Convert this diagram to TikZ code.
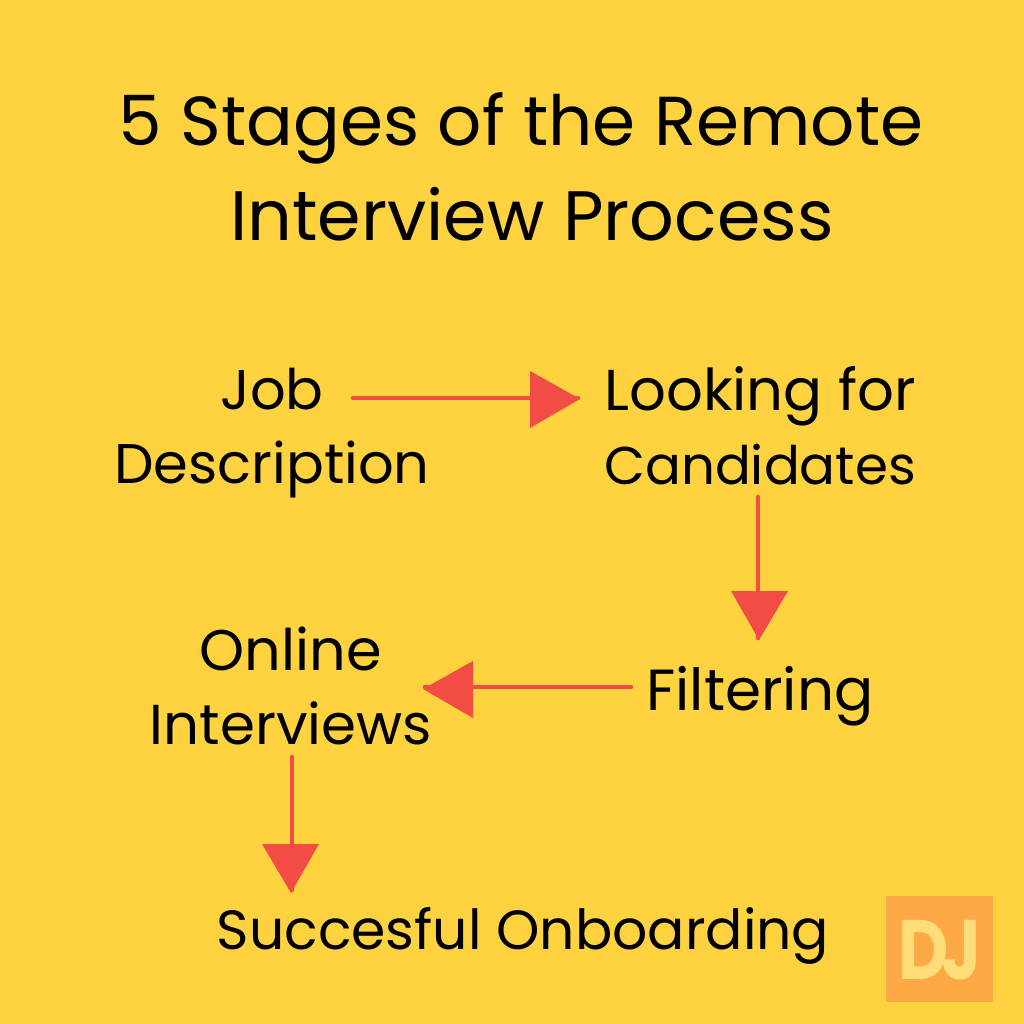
\documentclass[tikz,border=0pt]{standalone}
\usepackage{fontspec}
\setmainfont{Poppins}
\definecolor{bgy}{HTML}{FFD23F}
\definecolor{arr}{HTML}{F24C45}
\definecolor{logobg}{HTML}{FDA945}
\definecolor{logofg}{HTML}{FFDD78}
\newcommand{\fsz}[1]{\fontsize{#1}{21}\selectfont}
\tikzset{
 lab/.style={text=black,align=center,font=\fontsize{16.5}{21}\selectfont,inner sep=0pt},
 ttl/.style={text=black,align=center,font=\fontsize{19.7}{27}\selectfont,inner sep=0pt},
 conn/.style={draw=arr,line width=1.3pt,line cap=round},
 head/.style={fill=arr,draw=none}
}
\begin{document}
\begin{tikzpicture}[x=0.01cm,y=-0.01cm]
\useasboundingbox (0,0) rectangle (1024,1024);
\fill[bgy] (0,0) rectangle (1024,1024);
\node[ttl] (title) at (521,167) {5 Stages of the Remote\\\hspace*{6.3pt}\fontsize{19.9}{27}\selectfont Interview Process};
\node[lab] (job) at (272,433) {\fsz{15.9}Job\\\fsz{15.9}Description};
\node[lab] (look) at (760,426) {\fsz{16.4}Looking for\\\fsz{15.1}Candidates};
\node[lab] (filt) at (760,696) {Filtering};
\node[lab] (inter) at (291,686) {\fsz{16.3}Online\\\fsz{16}Interviews};
\node[lab,font=\fontsize{15.7}{21}\selectfont] (succ) at (523,936) {Succesful Onboarding};
\coordinate (a1s) at (353,398);\coordinate (a1e) at (578,398);
\draw[conn] (a1s) -- (a1e);
\fill[head] (580,399) -- (530,371) -- (530,428) -- cycle;
\coordinate (a2s) at (758,497);\coordinate (a2e) at (758,638);
\draw[conn] (a2s) -- (a2e);
\fill[head] (759,640) -- (731,591) -- (788,591) -- cycle;
\coordinate (a3s) at (631,687);\coordinate (a3e) at (425,687);
\draw[conn] (a3s) -- (a3e);
\fill[head] (423,689) -- (473,661) -- (473,718) -- cycle;
\coordinate (a4s) at (292,757);\coordinate (a4e) at (292,890);
\draw[conn] (a4s) -- (a4e);
\fill[head] (291,893) -- (262,844) -- (319,844) -- cycle;
\fill[logobg] (886,896) rectangle (993,1002);
\node[text=logofg,font=\fontsize{24}{26}\selectfont\bfseries,inner sep=0pt,xscale=.82,transform shape] (logo) at (940,950) {D\kern-2.5pt J};
\end{tikzpicture}
\end{document}
